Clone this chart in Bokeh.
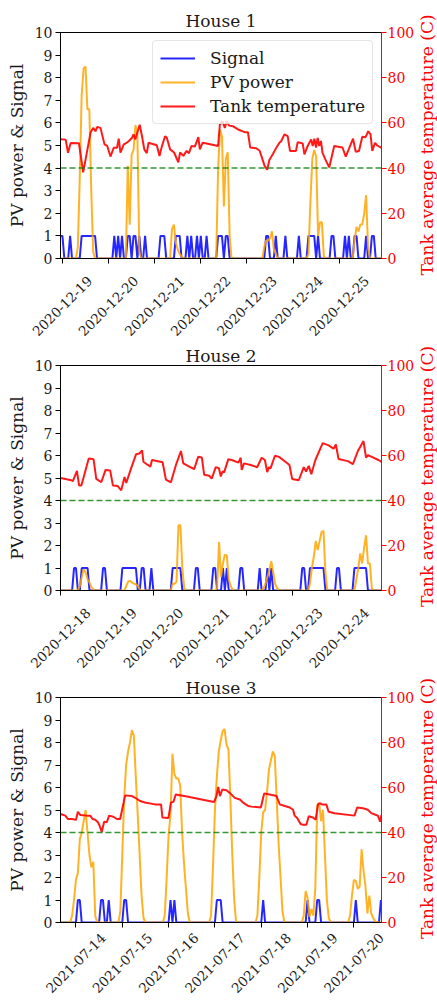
import numpy as np
import pandas as pd
from bokeh.plotting import figure
from bokeh.models import (Range1d, LinearAxis, FixedTicker, Span, Legend, LegendItem,
                          CustomJSTickFormatter, Label)
from bokeh.layouts import column
from bokeh.embed import file_html
from bokeh.resources import INLINE

FONT = "DejaVu Serif"

# ---------------- House 1 ----------------
h1_title = "House 1"
h1_ref = "2020-12-19 00:00"
h1_span = [-1, 166]
h1_ticks = ["2020-12-19", "2020-12-20", "2020-12-21", "2020-12-22",
            "2020-12-23", "2020-12-24", "2020-12-25"]
h1_signal_on = [-1, 0, 4, 10, 11, 12, 13, 14, 15, 16, 17, 27, 29, 31, 34, 35, 37, 38, 40, 43,
                51, 52, 53, 59, 60, 61, 65, 67, 70, 72, 75, 81, 82, 83, 85, 86, 106, 107, 111,
                116, 123, 128, 129, 130, 131, 133, 140, 141, 147, 149, 152, 153, 158, 161, 162]
h1_pv_hours = [-1, 7, 8, 9, 10, 11, 12, 13, 14, 15, 16, 17,
               33, 34, 35, 36, 37, 38, 39, 40, 41,
               56, 57, 58, 59, 60, 61, 62, 63,
               80, 81, 82, 83, 84, 85, 86, 87, 88,
               104, 105, 106, 107, 108, 109, 110, 111, 112,
               127, 128, 129, 130, 131, 132, 133, 134, 135, 136, 137,
               151, 152, 153, 154, 155, 156, 157, 158, 159, 160, 166]
h1_pv_values = [0, 0, 0.5, 3.5, 7.2, 8.4, 8.5, 6.6, 6.6, 3.0, 0.3, 0,
                0, 4.1, 1.5, 4.6, 4.8, 5.9, 5.5, 0.3, 0,
                0, 1.3, 1.5, 0.7, 0.4, 0.2, 0.1, 0,
                0, 4.0, 5.7, 5.4, 2.3, 4.4, 4.7, 1.0, 0,
                0, 0.5, 0.8, 0.8, 0.9, 1.2, 0.4, 0.2, 0,
                0, 0.2, 2.5, 4.4, 4.8, 4.5, 1.0, 1.6, 1.6, 0.1, 0,
                0, 0.8, 1.4, 1.2, 1.5, 1.5, 2.0, 2.8, 0.5, 0, 0]
h1_temp_hours = [-1, 1.7, 2.9, 4.3, 8.6, 10.8, 14.6, 16.0, 17.2, 18.1,
                 19.8, 21.9, 23.3, 25.0, 26.7, 28.4, 29.3, 30.2, 31.9, 33.3,
                 34.5, 36.2, 37.0, 37.9, 40.2, 41.4, 42.6, 43.9, 44.8, 49.1,
                 50.5, 51.7, 53.4, 54.3, 56.0, 58.1, 60.3, 61.2, 62.9, 64.6,
                 65.8, 67.2, 68.9, 70.7, 71.5, 72.9, 75.0, 81.0, 81.9, 83.3,
                 84.5, 85.4, 86.7, 88.8, 91.4, 94.8, 96.5, 97.7, 100.8, 102.6,
                 105.2, 106.5, 107.7, 109.5, 110.8, 112.9, 113.8, 115.5, 117.2, 118.4,
                 121.5, 122.4, 125.0, 125.9, 127.6, 129.4, 130.2, 131.1, 131.9, 132.8,
                 133.6, 134.5, 135.3, 136.7, 138.8, 141.4, 145.7, 147.4, 149.1, 151.2,
                 152.6, 154.3, 156.0, 157.7, 159.1, 160.3, 161.2, 162.6, 163.8, 166]
h1_temp_values = [52.8, 52.6, 46.8, 51.1, 51.0, 38.1, 55.6, 57.8, 56.3, 58.2,
                  57.8, 50.5, 49.8, 45.1, 49.0, 49.0, 53.0, 46.9, 50.5, 51.2,
                  51.9, 53.4, 54.9, 52.7, 59.2, 54.1, 48.3, 46.6, 51.2, 50.1,
                  45.4, 49.5, 54.1, 53.4, 48.3, 46.9, 42.5, 46.9, 45.4, 47.6,
                  46.6, 49.8, 49.5, 53.7, 48.3, 51.2, 50.9, 49.8, 59.2, 60.7,
                  57.8, 60.7, 58.8, 58.5, 57.1, 55.9, 55.9, 49.1, 48.8, 47.7,
                  41.0, 39.3, 43.7, 46.2, 48.3, 51.2, 51.9, 54.9, 54.1, 47.6,
                  47.6, 51.5, 50.9, 46.1, 49.8, 52.7, 49.8, 53.0, 49.1, 53.4,
                  49.8, 52.0, 46.9, 44.0, 40.3, 49.8, 49.1, 45.1, 48.6, 53.0,
                  47.2, 47.6, 53.9, 53.7, 56.3, 54.9, 47.6, 51.2, 50.0, 48.9]

# ---------------- House 2 ----------------
h2_title = "House 2"
h2_ref = "2020-12-18 00:00"
h2_span = [0, 166]
h2_ticks = ["2020-12-18", "2020-12-19", "2020-12-20", "2020-12-21",
            "2020-12-22", "2020-12-23", "2020-12-24"]
h2_signal_on = [7, 8, 11, 12, 13, 14, 22, 23, 32, 33, 34, 35, 36, 37, 38, 39, 42, 43, 47,
                58, 59, 60, 61, 62, 70, 71, 79, 80, 84, 86, 93, 94, 103, 107, 109, 125, 126,
                129, 130, 131, 132, 133, 134, 135, 136, 143, 144,
                152, 153, 154, 155, 156, 157, 158]
h2_pv_hours = [0, 9, 10, 11, 12, 13, 14, 15, 16, 17, 18,
               33, 34, 35, 36, 37, 38, 39, 40, 41, 42,
               57, 58, 59, 60, 61, 62, 63, 64, 65,
               80, 81, 82, 83, 84, 85, 86, 87, 88, 89, 90,
               104, 105, 106, 107, 108, 109, 110, 111, 112, 113,
               128, 129, 130, 131, 132, 133, 134, 135, 136, 137, 138,
               152, 153, 154, 155, 156, 157, 158, 159, 160, 161, 162, 166]
h2_pv_values = [0, 0, 0.2, 0.6, 0.95, 0.8, 0.5, 0.35, 0.15, 0.05, 0,
                0, 0.2, 0.4, 0.43, 0.35, 0.3, 0.28, 0.2, 0.05, 0,
                0, 0.3, 0.3, 0.4, 2.9, 2.9, 1.0, 0.1, 0,
                0, 0.1, 2.15, 0.6, 1.2, 1.6, 1.55, 0.5, 0.2, 0.05, 0,
                0, 0.1, 0.3, 0.6, 0.9, 1.3, 0.8, 0.3, 0.1, 0,
                0, 0.3, 1.0, 1.5, 2.2, 1.8, 2.2, 2.6, 2.65, 0.8, 0,
                0, 0.5, 1.0, 1.65, 1.2, 1.9, 2.45, 1.2, 1.2, 0.1, 0, 0]
h2_temp_hours = [0, 5.6, 6.4, 8.5, 9.6, 10.8, 14.6, 17.1, 18.5, 21.1,
                 23.3, 25.7, 27.1, 29.6, 31.4, 33.1, 34.0, 36.5, 39.1, 40.8,
                 42.2, 42.9, 45.1, 46.5, 47.3, 52.8, 54.5, 57.1, 59.7, 62.3,
                 63.5, 66.6, 69.1, 71.2, 73.1, 74.3, 76.9, 78.2, 80.3, 81.9,
                 82.9, 83.8, 84.6, 86.8, 88.9, 92.0, 93.2, 93.7, 94.9, 98.3,
                 101.7, 104.0, 105.7, 106.9, 107.8, 108.6, 110.9, 113.0, 116.3, 118.4,
                 119.8, 123.2, 125.8, 127.0, 128.4, 129.7, 131.8, 135.6, 138.7, 141.2,
                 142.4, 143.8, 148.6, 151.2, 153.8, 156.7, 158.0, 159.0, 161.0, 164.4,
                 166]
h2_temp_values = [50.0, 49.0, 48.6, 53.2, 46.7, 46.7, 58.7, 58.3, 49.6, 48.1,
                  53.6, 53.3, 46.7, 46.4, 44.5, 50.4, 47.8, 54.3, 60.6, 60.9,
                  62.3, 57.2, 55.8, 55.1, 58.0, 57.0, 49.3, 48.1, 55.8, 62.0,
                  56.5, 55.1, 53.9, 59.4, 59.1, 51.4, 51.0, 49.7, 54.8, 54.4,
                  50.7, 53.0, 52.5, 58.4, 57.9, 56.8, 59.0, 53.6, 56.5, 55.8,
                  54.8, 59.0, 58.0, 52.6, 54.8, 54.3, 59.9, 59.4, 57.2, 55.8,
                  49.6, 49.0, 54.8, 52.9, 55.4, 51.7, 58.0, 65.5, 64.5, 63.0,
                  64.9, 58.4, 57.5, 56.2, 62.0, 66.4, 59.1, 60.1, 59.4, 58.0,
                  57.2]

# ---------------- House 3 ----------------
h3_title = "House 3"
h3_ref = "2021-07-14 00:00"
h3_span = [-8, 158.3]
h3_ticks = ["2021-07-14", "2021-07-15", "2021-07-16", "2021-07-17",
            "2021-07-18", "2021-07-19", "2021-07-20"]
h3_signal_on = [1, 2, 13, 14, 17, 25, 26, 49, 51, 73, 74, 75, 97, 120, 125, 126, 145, 158]
h3_pv_hours = [-8, -3, -2, -1, 0, 1, 2, 3, 4, 5, 6, 7, 8, 9, 10, 11,
               22, 23, 24, 25, 26, 27, 28, 29, 30, 31, 32, 33, 34, 35, 36,
               45, 46, 47, 48, 49, 50, 51, 52, 53, 54, 55, 56, 57, 58, 59,
               69, 70, 71, 72, 73, 74, 75, 76, 77, 78, 79, 80, 81, 82, 83,
               93, 94, 95, 96, 97, 98, 99, 100, 101, 102, 103, 104, 105, 106, 107, 108,
               117, 118, 119, 120, 121, 122, 123, 124, 125, 126, 127, 128, 129, 130, 131, 132,
               141, 142, 143, 144, 145, 146, 147, 148, 149, 150, 151, 152, 153, 154, 155, 156,
               158.3]
h3_pv_values = [0, 0, 0.3, 1.0, 1.9, 2.2, 3.7, 4.0, 4.5, 5.0, 4.0, 3.0, 2.45, 2.7, 0.3, 0,
                0, 0.5, 3.0, 5.5, 7.0, 7.6, 8.0, 8.55, 8.3, 6.5, 4.8, 3.0, 1.2, 0.2, 0,
                0, 0.3, 2.0, 3.9, 4.8, 7.5, 6.6, 6.4, 6.4, 6.1, 4.0, 2.6, 1.5, 0.4, 0,
                0, 0.3, 2.5, 5.0, 6.5, 7.6, 8.1, 8.5, 8.6, 7.9, 7.7, 5.5, 3.0, 1.0, 0,
                0, 0.3, 2.0, 4.0, 4.9, 5.0, 5.8, 6.8, 7.2, 7.6, 7.4, 5.5, 3.5, 2.0, 0.5, 0,
                0, 0.3, 1.4, 1.1, 0.25, 0.6, 0.3, 1.5, 5.2, 5.3, 4.5, 5.0, 3.0, 1.0, 0.2, 0,
                0, 0.3, 1.2, 1.9, 1.85, 1.5, 1.6, 3.25, 2.3, 1.6, 0.4, 1.2, 0.4, 0.2, 0.05, 0,
                0]
h3_temp_hours = [-8, -5.5, -4.2, -2.0, 0.0, 1.0, 2.2, 5.7, 7.4, 8.6,
                 10.0, 11.4, 12.2, 13.4, 14.6, 16.0, 17.2, 19.4, 21.2, 22.9,
                 25.5, 29.0, 31.5, 33.2, 35.8, 41.0, 44.1, 44.8, 47.9, 49.2,
                 50.5, 51.7, 58.2, 65.1, 71.6, 72.8, 73.7, 74.6, 75.8, 78.0,
                 79.7, 82.3, 84.9, 86.6, 89.2, 91.0, 95.8, 97.5, 100.4, 103.9,
                 105.6, 108.2, 110.8, 112.5, 113.3, 114.7, 116.4, 117.6, 119.4, 120.6,
                 122.8, 124.2, 125.4, 126.3, 127.5, 129.7, 130.9, 134.0, 144.3, 145.7,
                 148.7, 151.2, 153.0, 155.5, 156.4, 157.6, 158.3]
h3_temp_values = [48.2, 47.5, 46.0, 46.0, 45.6, 49.2, 47.8, 47.5, 47.5, 46.0,
                  45.7, 44.6, 43.1, 40.2, 44.8, 44.6, 47.5, 47.0, 46.0, 46.0,
                  56.5, 56.2, 55.0, 54.0, 53.3, 52.5, 52.5, 46.7, 46.4, 53.3,
                  53.6, 56.9, 55.9, 54.7, 53.6, 56.2, 60.2, 56.2, 59.1, 58.8,
                  57.6, 55.4, 54.7, 53.3, 51.8, 51.5, 51.1, 57.3, 56.9, 56.2,
                  52.5, 51.8, 51.1, 50.1, 47.5, 46.3, 43.8, 43.4, 43.4, 47.2,
                  46.7, 45.7, 52.5, 53.0, 52.5, 52.5, 49.2, 48.6, 47.5, 51.1,
                  50.8, 50.1, 48.6, 47.8, 47.5, 44.8, 47.8]

left_ticks = list(range(0, 11))
right_ticks = [0, 20, 40, 60, 80, 100]
threshold = 4
left_label = "PV power & Signal"
right_label = "Tank average temperature (C)"
legend_labels = ["Signal", "PV power", "Tank temperature"]

EPOCH = pd.Timestamp("1970-01-01")
LABEL_SHIFT_H = 14.2   # rotated date labels are centred under their tick


def to_ms(ref, hours):
    base = pd.Timestamp(ref)
    return [(base + pd.Timedelta(hours=float(h)) - EPOCH) / pd.Timedelta(milliseconds=1)
            for h in hours]


def style_axis(ax, line_color, text_color):
    ax.axis_line_color = line_color
    ax.axis_line_width = 1
    ax.major_tick_line_color = line_color
    ax.major_tick_line_width = 1
    ax.major_tick_out = 5
    ax.major_tick_in = 0
    ax.minor_tick_line_color = None
    ax.major_label_text_font = FONT
    ax.major_label_text_font_size = "14px"
    ax.major_label_text_color = text_color
    ax.axis_label_text_font = FONT
    ax.axis_label_text_font_size = "17px"
    ax.axis_label_text_font_style = "normal"
    ax.axis_label_text_color = text_color


def make_panel(title, ref, span, tick_labels, sig_on, pv_h, pv_v, t_h, t_v,
               height, top, bottom, title_standoff, xlab_standoff, with_legend):
    x0, x1 = to_ms(ref, span)
    p = figure(width=437, height=height, x_axis_type="datetime",
               x_range=Range1d(x0, x1), y_range=Range1d(0, 10),
               output_backend="svg", toolbar_location=None,
               min_border_left=60, min_border_right=55,
               min_border_top=top, min_border_bottom=bottom)
    p.extra_y_ranges = {"temp": Range1d(0, 100)}
    p.xgrid.visible = False
    p.ygrid.visible = False
    p.outline_line_color = "black"
    p.outline_line_width = 1
    p.background_fill_color = "white"
    p.border_fill_color = "white"

    p.title.text = title
    p.title.align = "center"
    p.title.text_font = FONT
    p.title.text_font_size = "17px"
    p.title.text_font_style = "normal"
    p.title.text_color = "#1a1a1a"
    p.title.standoff = title_standoff

    on = set(sig_on)
    sig_hours = list(range(int(np.ceil(span[0])), int(np.floor(span[1])) + 1))
    sig_vals = [1 if h in on else 0 for h in sig_hours]
    r_sig = p.line(to_ms(ref, sig_hours), sig_vals, line_color="#0000ff",
                   line_width=2, line_alpha=0.85)
    r_pv = p.line(to_ms(ref, pv_h), pv_v, line_color="#ffa500",
                  line_width=2, line_alpha=0.85)
    r_t = p.line(to_ms(ref, t_h), t_v, y_range_name="temp", line_color="#ff0000",
                 line_width=2, line_alpha=0.9)

    p.add_layout(Span(location=threshold, dimension="width", line_color="#008000",
                      line_alpha=0.8, line_width=1.5, line_dash="6 3"))

    yl = p.yaxis[0]
    yl.ticker = FixedTicker(ticks=left_ticks)
    yl.axis_label = left_label
    style_axis(yl, "black", "#1a1a1a")
    yl.major_label_standoff = 3
    yl.axis_label_standoff = 5

    yr = LinearAxis(y_range_name="temp", ticker=FixedTicker(ticks=right_ticks))
    style_axis(yr, "#ff0000", "#ff0000")
    yr.major_label_standoff = 1
    p.add_layout(yr, "right")

    # right-hand axis title, reading bottom-to-top like the original
    frame_mid = top + (height - top - bottom) / 2.0 - 2
    try:
        rl = Label(x=426.5, y=frame_mid, x_units="canvas", y_units="canvas",
                   text=right_label, angle=np.pi / 2, text_align="center",
                   text_baseline="middle")
    except Exception:
        rl = Label(x=44, y=(height - top - bottom) / 2.0, x_units="screen", y_units="screen",
                   text=right_label, angle=np.pi / 2, text_align="center",
                   text_baseline="middle")
    rl.text_font = FONT
    rl.text_font_size = "17px"
    rl.text_color = "#ff0000"
    p.add_layout(rl, "right")

    # x axis: tick marks at the dates (minor ticks), rotated labels centred under them
    day_hours = [24 * i for i in range(len(tick_labels))]
    true_ms = to_ms(ref, day_hours)
    lab_ms = to_ms(ref, [h + LABEL_SHIFT_H for h in day_hours])
    xa = p.xaxis[0]
    xa.ticker = FixedTicker(ticks=lab_ms, minor_ticks=true_ms)
    xa.formatter = CustomJSTickFormatter(args=dict(labels=tick_labels),
                                         code="return labels[index]")
    style_axis(xa, "black", "#1a1a1a")
    xa.major_label_text_font_size = "13.5px"
    xa.major_tick_line_color = None
    xa.major_tick_out = 0
    xa.minor_tick_line_color = "black"
    xa.minor_tick_line_width = 1
    xa.minor_tick_out = 5
    xa.minor_tick_in = 0
    xa.major_label_orientation = np.pi / 4
    xa.major_label_standoff = xlab_standoff

    if with_legend:
        lg = Legend(items=[LegendItem(label=legend_labels[0], renderers=[r_sig]),
                           LegendItem(label=legend_labels[1], renderers=[r_pv]),
                           LegendItem(label=legend_labels[2], renderers=[r_t])],
                    location="top_right")
        lg.label_text_font = FONT
        lg.label_text_font_size = "17px"
        lg.label_text_color = "#1a1a1a"
        lg.glyph_width = 35
        lg.glyph_height = 20
        lg.label_height = 20
        lg.label_standoff = 15
        lg.spacing = 4
        lg.padding = 7
        lg.margin = 8
        lg.border_line_color = "#cccccc"
        lg.border_line_width = 1
        lg.background_fill_alpha = 0.8
        if "border_radius" in lg.properties():
            lg.border_radius = 4
        p.add_layout(lg)
    return p


p1 = make_panel(h1_title, h1_ref, h1_span, h1_ticks, h1_signal_on, h1_pv_hours, h1_pv_values,
                h1_temp_hours, h1_temp_values, 343, 32, 82, 3, 15, True)
p2 = make_panel(h2_title, h2_ref, h2_span, h2_ticks, h2_signal_on, h2_pv_hours, h2_pv_values,
                h2_temp_hours, h2_temp_values, 332, 20, 82, 0, 15, False)
p3 = make_panel(h3_title, h3_ref, h3_span, h3_ticks, h3_signal_on, h3_pv_hours, h3_pv_values,
                h3_temp_hours, h3_temp_values, 325, 20, 75, 0, 8, False)

layout = column(p1, p2, p3, spacing=0)
open("out.html", "w").write(file_html(layout, INLINE))
